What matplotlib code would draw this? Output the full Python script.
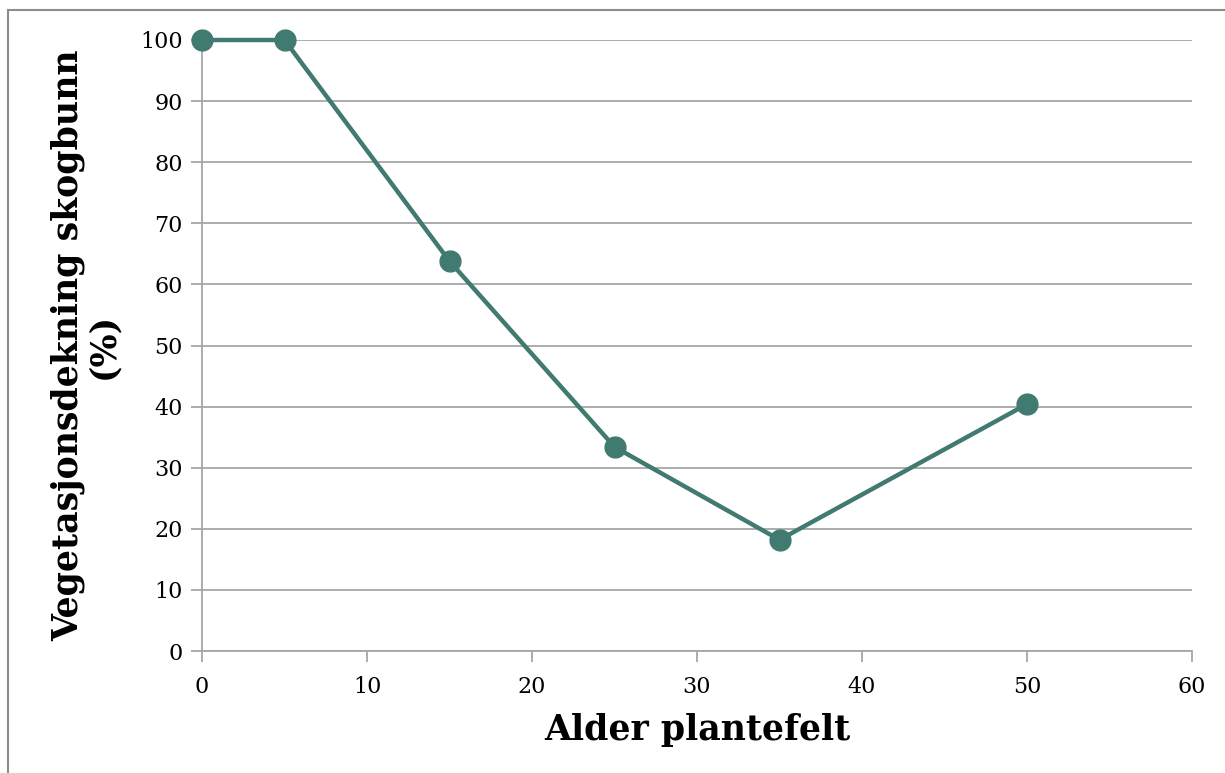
import matplotlib
matplotlib.use("Agg")
import matplotlib.pyplot as plt
from matplotlib.patches import Rectangle

# data
alder = [0, 5, 15, 25, 35, 50]
dekning = [100, 100, 63.8, 33.4, 18.2, 40.4]
x_ticks = [0, 10, 20, 30, 40, 50, 60]
y_ticks = [0, 10, 20, 30, 40, 50, 60, 70, 80, 90, 100]

line_col = "#417a70"
grid_col = "#a6a6a6"

plt.rcParams["font.family"] = ["DejaVu Serif"]

fig = plt.figure(figsize=(12.25, 7.73), dpi=100)
ax = fig.add_axes([202 / 1225, 1 - 651 / 773, 990 / 1225, 611 / 773])

# outer chart frame (only left/top visible)
fig.patches.append(Rectangle((8 / 1225, -0.05), 1.1, 1 - 10 / 773 + 0.05,
                             transform=fig.transFigure, fill=False,
                             edgecolor="#8c8c8c", lw=1.5, zorder=0))

ax.plot(alder, dekning, color=line_col, lw=3.2, marker="o", ms=15,
        markerfacecolor=line_col, markeredgecolor=line_col, clip_on=False, zorder=3)

ax.set_xlim(0, 60)
ax.set_ylim(0, 100)
ax.set_xticks(x_ticks)
ax.set_yticks(y_ticks)
ax.grid(axis="y", color=grid_col, lw=1.3)
ax.set_axisbelow(True)
for s in ["top", "right"]:
    ax.spines[s].set_visible(False)
for s in ["left", "bottom"]:
    ax.spines[s].set_color(grid_col)
    ax.spines[s].set_linewidth(1.3)
ax.tick_params(axis="both", colors=grid_col, labelcolor="black", labelsize=16,
               width=1.3, length=8, direction="out")
ax.tick_params(axis="x", pad=10)
ax.tick_params(axis="y", pad=6)

ax.set_xlabel("Alder plantefelt", fontsize=25, fontweight="bold", labelpad=11)
ax.set_ylabel("Vegetasjonsdekning skogbunn\n(%)", fontsize=25, fontweight="bold",
              multialignment="center", labelpad=14, linespacing=1.05)

fig.savefig("out.png", dpi=100)
